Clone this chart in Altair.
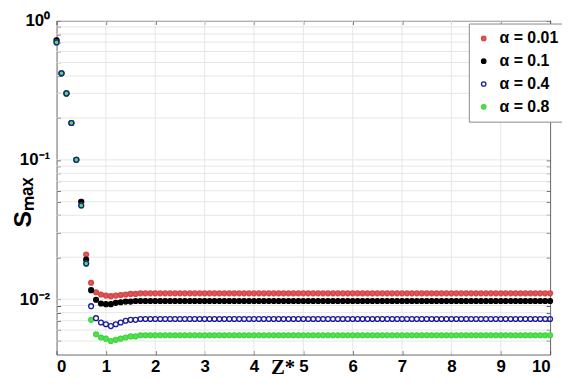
import altair as alt
import pandas as pd

# ---- data ----
z_values = [round(i * 0.1, 1) for i in range(101)]

s_a001 = [0.72, 0.418, 0.300, 0.184, 0.100, 0.050, 0.0209, 0.0131, 0.0112, 0.0108,
          0.0106, 0.0105, 0.0106, 0.0107, 0.0108, 0.0109, 0.0109, 0.0110, 0.0110, 0.0110] + [0.0110] * 81
s_a01 = [0.72, 0.418, 0.300, 0.184, 0.100, 0.050, 0.0192, 0.0116, 0.0099, 0.0093,
         0.0092, 0.0092, 0.0094, 0.0095, 0.0096, 0.0096, 0.0097, 0.0097, 0.0097, 0.0097] + [0.0097] * 81
s_a04 = [0.697, 0.418, 0.300, 0.184, 0.100, 0.047, 0.0180, 0.0089, 0.0073, 0.0068,
         0.0066, 0.0064, 0.0066, 0.0068, 0.0070, 0.0071, 0.0071, 0.0072, 0.0072, 0.0072] + [0.0072] * 81
s_a08 = [0.697, 0.418, 0.300, 0.184, 0.100, 0.047, 0.0180, 0.0071, 0.0056, 0.0053,
         0.0052, 0.0050, 0.0051, 0.0052, 0.0053, 0.0054, 0.0054, 0.0055, 0.0055, 0.0055] + [0.0055] * 81

series_labels = ["α = 0.01", "α = 0.1", "α = 0.4", "α = 0.8"]
stroke_colors = ["#d64545", "#000000", "#1c1c9c", "#3fd63f"]
fill_colors = ["#e05555", "#000000", "transparent", "#55e055"]
draw_rank = [0, 1, 3, 2]

x_ticks = [0, 1, 2, 3, 4, 5, 6, 7, 8, 9, 10]
y_grid = [0.005, 0.006, 0.007, 0.008, 0.009,
          0.01, 0.02, 0.03, 0.04, 0.05, 0.06, 0.07, 0.08, 0.09,
          0.1, 0.2, 0.3, 0.4, 0.5, 0.6, 0.7, 0.8, 0.9, 1.0]

rows = []
for lab, vals, rk in zip(series_labels, [s_a001, s_a01, s_a04, s_a08], draw_rank):
    for zz, ss in zip(z_values, vals):
        rows.append({"z": zz, "s": ss, "series": lab, "rank": rk})
df = pd.DataFrame(rows)
df_gx = pd.DataFrame({"v": x_ticks[1:-1]})
df_gy = pd.DataFrame({"v": y_grid})

xs = alt.Scale(domain=[0, 10], nice=False, zero=False)
ys = alt.Scale(type="log", domain=[0.004, 1], nice=False)

FONT = "Liberation Sans"

grid_x = alt.Chart(df_gx).mark_rule(color="#e6e6e6", strokeWidth=1).encode(
    x=alt.X("v:Q", scale=xs, axis=None))
grid_y = alt.Chart(df_gy).mark_rule(color="#e6e6e6", strokeWidth=1).encode(
    y=alt.Y("v:Q", scale=ys, axis=None))

legend = alt.Legend(
    title=None, orient="none", legendX=416, legendY=3,
    labelFont=FONT, labelFontSize=16, labelFontWeight="bold", labelColor="#000",
    symbolSize=20, symbolStrokeWidth=1.3, symbolType="circle", labelOffset=8,
    rowPadding=7, padding=7, strokeColor="#8a8a8a", fillColor="white")

label_expr = ("datum.value == 1 ? '10⁰' : (datum.value == 0.1 ? '10⁻¹' : "
              "(datum.value == 0.01 ? '10⁻²' : ''))")

points = alt.Chart(df).mark_point(shape="circle", size=24, strokeWidth=1.3, opacity=1).encode(
    x=alt.X("z:Q", scale=xs, axis=alt.Axis(
        orient="bottom", values=x_ticks, format="d", offset=-4, tickSize=4, domain=False,
        grid=False, tickColor="#555", labelPadding=4, labelFont=FONT, labelFontSize=17,
        labelFontWeight="bold", labelColor="#000", title="Z*", titleFont="Liberation Serif",
        titleFontSize=21, titleFontWeight="bold", titleColor="#000", titleX=228, titleY=6,
        titleBaseline="top")),
    y=alt.Y("s:Q", scale=ys, axis=alt.Axis(
        orient="left", values=y_grid, labelExpr=label_expr, offset=-4, tickSize=4,
        domain=False, grid=False, tickColor="#555", labelPadding=7, labelFont=FONT,
        labelFontSize=17, labelFontWeight="bold", labelColor="#000", title="Sₘₐₓ",
        titleFont=FONT, titleFontSize=25, titleFontWeight="bold", titleColor="#000",
        titleX=-25, titleY=183, titleAngle=270, titleBaseline="bottom")),
    stroke=alt.Stroke("series:N", scale=alt.Scale(domain=series_labels, range=stroke_colors), legend=legend),
    fill=alt.Fill("series:N", scale=alt.Scale(domain=series_labels, range=fill_colors), legend=legend),
    order=alt.Order("rank:Q"),
)

ticks = alt.Chart(df).mark_point(opacity=0).encode(
    x=alt.X("z:Q", scale=xs, axis=alt.Axis(
        orient="top", values=x_ticks, offset=-4, tickSize=4, domain=False, grid=False,
        labels=False, title=None, tickColor="#555")),
    y=alt.Y("s:Q", scale=ys, axis=alt.Axis(
        orient="right", values=y_grid, offset=-4, tickSize=4, domain=False, grid=False,
        labels=False, title=None, tickColor="#555")),
)

chart = alt.layer(grid_x, grid_y, points, ticks).resolve_axis(
    x="independent", y="independent"
).properties(
    width=498, height=337, autosize="none",
    padding={"left": 49, "top": 11, "right": 12, "bottom": 24},
).configure_view(stroke="#666", strokeWidth=1)

chart.save("out.html", embed_options={"renderer": "svg", "actions": False})
